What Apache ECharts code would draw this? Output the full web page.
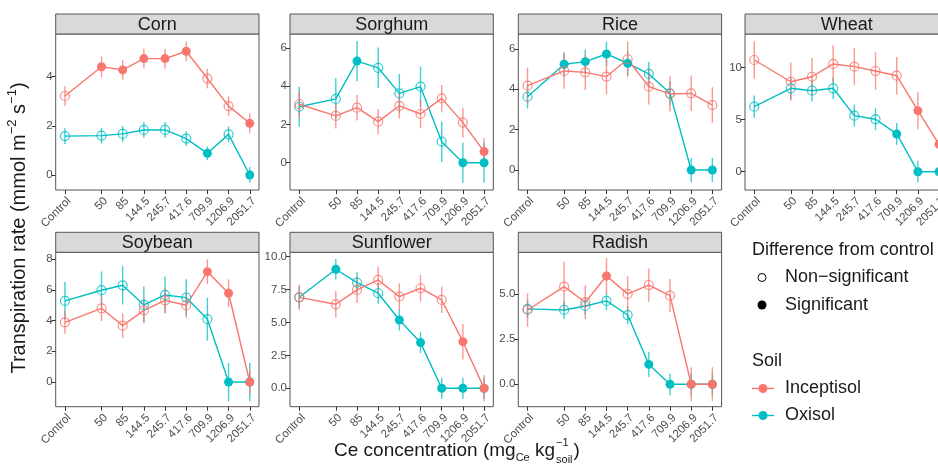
<!DOCTYPE html>
<html><head><meta charset="utf-8">
<script src="https://cdn.jsdelivr.net/npm/echarts@6/dist/echarts.min.js"></script>
<style>html,body{margin:0;padding:0;background:#fff}#c{width:938px;height:470px}</style>
</head><body><div id="c"></div>
<script>
// ---------- DATA ----------
const concLabels = ['Control','50','85','144.5','245.7','417.6','709.9','1206.9','2051.7'];
// concentration used for x position on the log scale (Control drawn at 20)
const concValues = [20, 50, 85, 144.5, 245.7, 417.6, 709.9, 1206.9, 2051.7];
const crops = ['Corn','Sorghum','Rice','Wheat','Soybean','Sunflower','Radish'];
const soils = ['Inceptisol','Oxisol'];

const cornInc      = [3.21, 4.40, 4.27, 4.73, 4.73, 5.03, 3.92, 2.80, 2.10];
const cornIncErr   = [0.40, 0.42, 0.40, 0.40, 0.40, 0.40, 0.40, 0.40, 0.40];
const cornIncSig   = [0, 1, 1, 1, 1, 1, 0, 0, 1];
const cornOxi      = [1.58, 1.60, 1.67, 1.83, 1.83, 1.48, 0.88, 1.65, 0];
const cornOxiErr   = [0.32, 0.32, 0.32, 0.32, 0.32, 0.30, 0.28, 0.32, 0.32];
const cornOxiSig   = [0, 0, 0, 0, 0, 0, 1, 0, 1];

const sorghumInc    = [3.06, 2.45, 2.88, 2.15, 2.98, 2.55, 3.37, 2.10, 0.58];
const sorghumIncErr = [0.70, 0.66, 0.67, 0.66, 0.67, 0.74, 0.70, 0.78, 0.70];
const sorghumIncSig = [0, 0, 0, 0, 0, 0, 0, 0, 1];
const sorghumOxi    = [2.93, 3.34, 5.32, 4.97, 3.63, 3.98, 1.10, 0, 0];
const sorghumOxiErr = [1.05, 1.09, 1.05, 1.06, 1.02, 1.06, 1.06, 1.05, 1.05];
const sorghumOxiSig = [0, 0, 1, 0, 0, 0, 0, 1, 1];

const riceInc    = [4.18, 4.91, 4.84, 4.63, 5.49, 4.13, 3.77, 3.80, 3.22];
const riceIncErr = [0.90, 0.88, 0.88, 0.88, 0.87, 0.88, 0.88, 0.88, 0.88];
const riceIncSig = [0, 0, 0, 0, 0, 0, 0, 0, 0];
const riceOxi    = [3.63, 5.24, 5.37, 5.75, 5.29, 4.76, 3.80, 0, 0];
const riceOxiErr = [0.58, 0.60, 0.60, 0.60, 0.60, 0.60, 0.60, 0.60, 0.60];
const riceOxiSig = [0, 1, 1, 1, 1, 0, 0, 1, 1];

const wheatInc    = [10.74, 8.65, 9.13, 10.36, 10.10, 9.68, 9.23, 5.87, 2.63];
const wheatIncErr = [1.80, 1.84, 1.80, 1.80, 1.80, 1.80, 1.80, 1.80, 1.80];
const wheatIncSig = [0, 0, 0, 0, 0, 0, 0, 1, 1];
const wheatOxi    = [6.25, 8.02, 7.79, 8.02, 5.39, 5.04, 3.63, 0, 0];
const wheatOxiErr = [1.07, 1.05, 1.05, 1.05, 1.05, 1.05, 1.05, 1.05, 1.05];
const wheatOxiSig = [0, 0, 0, 0, 0, 0, 1, 1, 1];

const soybeanInc    = [3.89, 4.80, 3.67, 4.67, 5.32, 5.00, 7.19, 5.78, 0];
const soybeanIncErr = [0.75, 0.83, 0.80, 0.80, 0.80, 0.80, 0.80, 0.90, 0.80];
const soybeanIncSig = [0, 0, 0, 0, 0, 0, 1, 1, 1];
const soybeanOxi    = [5.28, 5.98, 6.30, 5.02, 5.67, 5.50, 4.09, 0, 0];
const soybeanOxiErr = [1.23, 1.22, 1.25, 1.20, 1.20, 1.20, 1.40, 1.25, 1.25];
const soybeanOxiSig = [0, 0, 0, 0, 0, 0, 0, 1, 1];

const sunflowerInc    = [6.91, 6.38, 7.47, 8.23, 6.96, 7.60, 6.71, 3.54, 0];
const sunflowerIncErr = [0.98, 1.00, 1.00, 1.00, 1.00, 1.00, 1.00, 1.35, 1.00];
const sunflowerIncSig = [0, 0, 0, 0, 0, 0, 0, 1, 1];
const sunflowerOxi    = [6.91, 9.04, 8.03, 7.22, 5.19, 3.47, 0, 0, 0];
const sunflowerOxiErr = [0.80, 0.78, 0.78, 0.80, 0.80, 0.80, 0.80, 0.80, 0.80];
const sunflowerOxiSig = [0, 1, 0, 0, 1, 1, 1, 1, 1];

const radishInc    = [4.11, 5.40, 4.54, 5.99, 5.00, 5.49, 4.90, 0, 0];
const radishIncErr = [0.92, 1.38, 0.94, 0.99, 0.97, 0.92, 0.92, 0.94, 0.94];
const radishIncSig = [0, 0, 0, 1, 0, 0, 0, 1, 1];
const radishOxi    = [4.17, 4.11, 4.33, 4.61, 3.83, 1.10, 0, 0, 0];
const radishOxiErr = [0.50, 0.50, 0.50, 0.50, 0.50, 0.70, 0.60, 0.60, 0.60];
const radishOxiSig = [0, 0, 0, 0, 0, 1, 1, 1, 1];

// y tick labels per panel
const cornTicks      = [0, 2, 4];
const sorghumTicks   = [0, 2, 4, 6];
const riceTicks      = [0, 2, 4, 6];
const wheatTicks     = [0, 5, 10];
const soybeanTicks   = [0, 2, 4, 6, 8];
const sunflowerTicks = [0, 2.5, 5, 7.5, 10];
const radishTicks    = [0, 2.5, 5];

// ---------- LAYOUT ----------
const FONT = '"Liberation Sans", Arial, Helvetica, sans-serif';
const RED = '#F8766D', TEAL = '#00BFC4';
const colLeft = [55.7, 290, 518.3, 745];
const panelW = 203.3;
const rowTop = [34, 252.3];
const rowH = [156, 154.4];
const stripH = 20;
const TICKFONT = 11.5;

const panels = [
  {name:'Corn',      inc:[cornInc,cornIncErr,cornIncSig], oxi:[cornOxi,cornOxiErr,cornOxiSig], ticks:cornTicks, yMin:-0.61, yMax:5.73, dec:0},
  {name:'Sorghum',   inc:[sorghumInc,sorghumIncErr,sorghumIncSig], oxi:[sorghumOxi,sorghumOxiErr,sorghumOxiSig], ticks:sorghumTicks, yMin:-1.43, yMax:6.74, dec:0},
  {name:'Rice',      inc:[riceInc,riceIncErr,riceIncSig], oxi:[riceOxi,riceOxiErr,riceOxiSig], ticks:riceTicks, yMin:-0.99, yMax:6.74, dec:0},
  {name:'Wheat',     inc:[wheatInc,wheatIncErr,wheatIncSig], oxi:[wheatOxi,wheatOxiErr,wheatOxiSig], ticks:wheatTicks, yMin:-1.76, yMax:13.24, dec:0},
  {name:'Soybean',   inc:[soybeanInc,soybeanIncErr,soybeanIncSig], oxi:[soybeanOxi,soybeanOxiErr,soybeanOxiSig], ticks:soybeanTicks, yMin:-1.61, yMax:8.45, dec:0},
  {name:'Sunflower', inc:[sunflowerInc,sunflowerIncErr,sunflowerIncSig], oxi:[sunflowerOxi,sunflowerOxiErr,sunflowerOxiSig], ticks:sunflowerTicks, yMin:-1.40, yMax:10.33, dec:1},
  {name:'Radish',    inc:[radishInc,radishIncErr,radishIncSig], oxi:[radishOxi,radishOxiErr,radishOxiSig], ticks:radishTicks, yMin:-1.24, yMax:7.30, dec:1}
];

const xPos = concValues.map(v => Math.log10(v));
const xExp = (xPos[xPos.length-1] - xPos[0]) * 0.05;
const xMin = xPos[0] - xExp, xMax = xPos[xPos.length-1] + xExp;

function xLabel(v){
  for (let k=0;k<xPos.length;k++) if (Math.abs(xPos[k]-v) < 1e-6) return concLabels[k];
  return '';
}

const grids=[], xAxes=[], yAxes=[], series=[], graphics=[];

panels.forEach((p, i) => {
  const row = i < 4 ? 0 : 1;
  const col = i < 4 ? i : i - 4;
  const left = colLeft[col], top = rowTop[row], h = rowH[row];
  grids.push({left:left, top:top, width:panelW, height:h, show:true, borderColor:'#555', borderWidth:1,
    backgroundColor:'#fff', containLabel:false, outerBoundsMode:'none'});
  xAxes.push({gridIndex:i, type:'value', min:xMin, max:xMax, position:'bottom',
    axisLine:{show:false, onZero:false}, splitLine:{show:false},
    axisTick:{show:true, customValues:xPos, length:4, lineStyle:{color:'#333', width:1}},
    axisLabel:{show:true, customValues:xPos, rotate:45, margin:5, align:'right', verticalAlign:'top',
      fontSize:TICKFONT, color:'#4D4D4D', fontFamily:FONT, formatter:xLabel}});
  yAxes.push({gridIndex:i, type:'value', min:p.yMin, max:p.yMax, position:'left',
    axisLine:{show:false, onZero:false}, splitLine:{show:false},
    axisTick:{show:true, customValues:p.ticks, length:4, lineStyle:{color:'#333', width:1}},
    axisLabel:{show:true, customValues:p.ticks, margin:3, fontSize:TICKFONT, color:'#4D4D4D', fontFamily:FONT,
      formatter: v => Number(v).toFixed(p.dec)}});

  // strip
  graphics.push({type:'rect', shape:{x:left, y:top-stripH, width:panelW, height:stripH},
    style:{fill:'#D9D9D9', stroke:'#555', lineWidth:1}, z:10});
  graphics.push({type:'text', x:left+panelW/2, y:top-stripH/2+1,
    style:{text:p.name, fill:'#1A1A1A', font:'18px ' + FONT, textAlign:'center', textVerticalAlign:'middle'}, z:11});

  const soilSets = [[p.oxi, TEAL, 3], [p.inc, RED, 4]];
  soilSets.forEach(([set, color]) => {
    const [vals, errs] = set;
    series.push({type:'custom', xAxisIndex:i, yAxisIndex:i, z:1, silent:true,
      data: vals.map((v,k) => [xPos[k], v - errs[k], v + errs[k]]),
      renderItem: (params, api) => {
        const a = api.coord([api.value(0), api.value(1)]);
        const b = api.coord([api.value(0), api.value(2)]);
        return {type:'line', shape:{x1:a[0], y1:a[1], x2:b[0], y2:b[1]},
          style:{stroke:color, lineWidth:1.4, opacity:0.75}};
      }});
  });
  soilSets.forEach(([set, color]) => {
    const [vals] = set;
    series.push({type:'line', xAxisIndex:i, yAxisIndex:i, z:2, silent:true, symbol:'none',
      data: vals.map((v,k) => [xPos[k], v]), lineStyle:{color:color, width:1.4}});
  });
  soilSets.forEach(([set, color, z]) => {
    const [vals, errs, sig] = set;
    series.push({type:'scatter', xAxisIndex:i, yAxisIndex:i, z:z, silent:true, symbol:'circle', symbolSize:9,
      data: vals.map((v,k) => ({value:[xPos[k], v],
        itemStyle: sig[k] ? {color:color, opacity:1}
                          : {color:'rgba(255,255,255,0)', borderColor:color, borderWidth:1.2, opacity:0.8}}))});
  });
});

// ---------- axis titles (built with measured text) ----------
const ctx = document.createElement('canvas').getContext('2d');
function tw(t, size){ ctx.font = size + 'px ' + FONT; return ctx.measureText(t).width; }

// y title: "Transpiration rate (mmol m^-2 s^-1)"
(function(){
  const big = 20, small = 13;
  const parts = [
    {t:'Transpiration rate (mmol m', s:big, dy:0},
    {t:'\u22122', s:small, dy:-7},
    {t:' s', s:big, dy:0},
    {t:'\u22121', s:small, dy:-7},
    {t:')', s:big, dy:0}
  ];
  let total = 0; parts.forEach(p => { p.w = tw(p.t, p.s); total += p.w; });
  let x = -total/2;
  const children = parts.map(p => { const c = {type:'text', x:x, y:p.dy,
      style:{text:p.t, font:p.s+'px '+FONT, fill:'#1A1A1A', textAlign:'left', textVerticalAlign:'middle'}}; x += p.w; return c; });
  graphics.push({type:'group', x:19, y:228, rotation:Math.PI/2, children:children, z:20});
})();

// x title: "Ce concentration (mg_Ce kg^-1_soil)"
(function(){
  const big = 19, small = 11;
  const y0 = 451;
  let x = 334;
  const children = [];
  const add = (t, s, dy, adv) => { children.push({type:'text', x:x, y:y0+dy,
      style:{text:t, font:s+'px '+FONT, fill:'#1A1A1A', textAlign:'left', textVerticalAlign:'middle'}});
      const w = tw(t, s); if (adv) x += w; return w; };
  add('Ce concentration (mg', big, 0, true);
  add('Ce', small, 7, true);
  add(' kg', big, 0, true);
  x += 1;
  const w1 = add('\u22121', small, -8, false);
  const w2 = add('soil', small, 9, false);
  x += Math.max(w1, w2) + 1;
  add(')', big, 0, true);
  graphics.push({type:'group', children:children, z:20});
})();

// ---------- legend ----------
const lx = 752;
graphics.push({type:'text', x:lx, y:250, style:{text:'Difference from control', font:'18px '+FONT, fill:'#1A1A1A', textVerticalAlign:'middle'}});
graphics.push({type:'circle', shape:{cx:762, cy:277.5, r:4}, style:{fill:'none', stroke:'#000', lineWidth:1}});
graphics.push({type:'text', x:785, y:277.5, style:{text:'Non\u2212significant', font:'18px '+FONT, fill:'#1A1A1A', textVerticalAlign:'middle'}});
graphics.push({type:'circle', shape:{cx:762, cy:305, r:4.5}, style:{fill:'#000'}});
graphics.push({type:'text', x:785, y:305, style:{text:'Significant', font:'18px '+FONT, fill:'#1A1A1A', textVerticalAlign:'middle'}});
graphics.push({type:'text', x:lx, y:361, style:{text:'Soil', font:'18px '+FONT, fill:'#1A1A1A', textVerticalAlign:'middle'}});
[[soils[0], RED, 388.5], [soils[1], TEAL, 415.5]].forEach(([name, c, y]) => {
  graphics.push({type:'line', shape:{x1:752, y1:y, x2:774, y2:y}, style:{stroke:c, lineWidth:1.4}});
  graphics.push({type:'circle', shape:{cx:763, cy:y, r:4.5}, style:{fill:c}});
  graphics.push({type:'text', x:785, y:y, style:{text:name, font:'18px '+FONT, fill:'#1A1A1A', textVerticalAlign:'middle'}});
});

const chart = echarts.init(document.getElementById('c'), null, {renderer:'canvas', width:938, height:470});
chart.setOption({
  animation:false,
  backgroundColor:'#fff',
  textStyle:{fontFamily:FONT},
  grid:grids, xAxis:xAxes, yAxis:yAxes, series:series, graphic:graphics
});
</script>
</body></html>
